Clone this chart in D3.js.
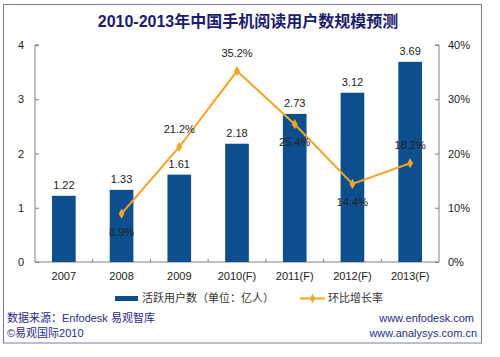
<!DOCTYPE html>
<html><head><meta charset="utf-8">
<script src="https://d3js.org/d3.v7.min.js"></script>
<style>
body{margin:0;background:#fff;}
text{font-family:"Liberation Sans",Arial,"Noto Sans CJK SC",sans-serif;}
</style></head>
<body><svg id="c" width="500" height="357"></svg>
<script>
const categories = ["2007","2008","2009","2010(F)","2011(F)","2012(F)","2013(F)"];
const users = [1.22,1.33,1.61,2.18,2.73,3.12,3.69];
const growth = [null,8.9,21.2,35.2,25.4,14.4,18.2];
const growthLabelSide = [null,"below","above","above","below","below","above"];
const leftTicks = [0,1,2,3,4];
const rightTicks = [0,10,20,30,40];
const title = "2010-2013年中国手机阅读用户数规模预测";
const legendBar = "活跃用户数（单位：亿人）";
const legendLine = "环比增长率";

const svg = d3.select("#c");
const W=500,H=357;
const x0=35,x1=439,yTop=45,yBot=262;
const barColor="#0d4f8d", lineColor="#f5a425", axisColor="#808080", textColor="#222";

svg.append("rect").attr("x",3.5).attr("y",4.5).attr("width",478).attr("height",338.5)
  .attr("fill","#fff").attr("stroke","#7878b8").attr("stroke-width",1);

svg.append("text").attr("x",248).attr("y",27).attr("text-anchor","middle")
  .attr("font-size",16).attr("font-weight","bold").attr("fill","#1c1c6e").text(title);

const x = d3.scaleBand().domain(categories).range([x0,x1]).paddingInner(0.59).paddingOuter(0.295);
const yL = d3.scaleLinear().domain([0,4]).range([yBot,yTop]);
const yR = d3.scaleLinear().domain([0,40]).range([yBot,yTop]);

// axes
const gL = svg.append("g").attr("transform",`translate(${x0},0)`)
  .call(d3.axisRight(yL).tickValues(leftTicks).tickSize(4).tickFormat(""));
const gR = svg.append("g").attr("transform",`translate(${x1},0)`)
  .call(d3.axisLeft(yR).tickValues(rightTicks).tickSize(4).tickFormat(""));
[gL,gR].forEach(g=>{g.selectAll("path,line").attr("stroke",axisColor);});
gL.select(".domain").attr("d",`M4,${yTop}H0V${yBot}`);
gR.select(".domain").attr("d",`M-4,${yTop}H0V${yBot}`);
svg.selectAll(".ltick").data(leftTicks).join("text").attr("class","ltick")
  .attr("x",24).attr("y",d=>yL(d)+4).attr("text-anchor","end").attr("font-size",11).attr("fill",textColor).text(d=>d);
svg.selectAll(".rtick").data(rightTicks).join("text").attr("class","rtick")
  .attr("x",448).attr("y",d=>yR(d)+4).attr("text-anchor","start").attr("font-size",11).attr("fill",textColor).text(d=>d+"%");

// x axis
svg.append("line").attr("x1",x0).attr("x2",x1).attr("y1",yBot).attr("y2",yBot).attr("stroke",axisColor);
svg.selectAll(".xt").data(categories.slice(1)).join("line").attr("class","xt")
  .attr("x1",d=>x(d)-x.step()*x.paddingInner()/2-0.5*0).attr("x2",d=>x(d)-x.step()*x.paddingInner()/2)
  .attr("y1",yBot).attr("y2",yBot-3).attr("stroke",axisColor);
svg.selectAll(".xl").data(categories).join("text").attr("class","xl")
  .attr("x",d=>x(d)+x.bandwidth()/2).attr("y",280).attr("text-anchor","middle").attr("font-size",11).attr("fill",textColor).text(d=>d);

// bars
svg.selectAll(".bar").data(users).join("rect").attr("class","bar")
  .attr("x",(d,i)=>x(categories[i])).attr("width",x.bandwidth())
  .attr("y",d=>yL(d)).attr("height",d=>yBot-yL(d)).attr("fill",barColor);
svg.selectAll(".bl").data(users).join("text").attr("class","bl")
  .attr("x",(d,i)=>x(categories[i])+x.bandwidth()/2).attr("y",d=>yL(d)-7)
  .attr("text-anchor","middle").attr("font-size",11).attr("fill",textColor).text(d=>d.toFixed(2));

// line
const pts = growth.map((g,i)=>({g,i,side:growthLabelSide[i]})).filter(d=>d.g!==null);
const cx = d=>x(categories[d.i])+x.bandwidth()/2;
svg.append("path").datum(pts).attr("fill","none").attr("stroke",lineColor).attr("stroke-width",2)
  .attr("d",d3.line().x(cx).y(d=>yR(d.g)));
svg.selectAll(".mk").data(pts).join("path").attr("class","mk")
  .attr("transform",d=>`translate(${cx(d)},${yR(d.g)})`)
  .attr("d",d3.symbol(d3.symbolDiamond,30)).attr("fill",lineColor);
svg.selectAll(".gl").data(pts).join("text").attr("class","gl")
  .attr("x",cx).attr("y",d=>yR(d.g)+(d.side==="above"?-14:22))
  .attr("text-anchor","middle").attr("font-size",11).attr("fill",textColor).text(d=>d.g.toFixed(1)+"%");

// legend
svg.append("rect").attr("x",115).attr("y",296).attr("width",23).attr("height",5).attr("fill",barColor);
svg.append("text").attr("x",142).attr("y",302).attr("font-size",11).attr("fill","#333").text(legendBar);
svg.append("line").attr("x1",300).attr("x2",325).attr("y1",298.5).attr("y2",298.5).attr("stroke",lineColor).attr("stroke-width",2);
svg.append("path").attr("transform","translate(312.5,298.5)").attr("d",d3.symbol(d3.symbolDiamond,25)).attr("fill",lineColor);
svg.append("text").attr("x",328).attr("y",302).attr("font-size",11).attr("fill","#333").text(legendLine);

// footer
const fc="#2b2b8c";
svg.append("text").attr("x",7).attr("y",322).attr("font-size",11).attr("fill",fc).text("数据来源：Enfodesk 易观智库");
svg.append("text").attr("x",7).attr("y",337).attr("font-size",11).attr("fill",fc).text("©易观国际2010");
svg.append("text").attr("x",474).attr("y",322).attr("text-anchor","end").attr("font-size",11).attr("fill",fc).text("www.enfodesk.com");
svg.append("text").attr("x",477).attr("y",337).attr("text-anchor","end").attr("font-size",11).attr("fill",fc).text("www.analysys.com.cn");
</script></body></html>
